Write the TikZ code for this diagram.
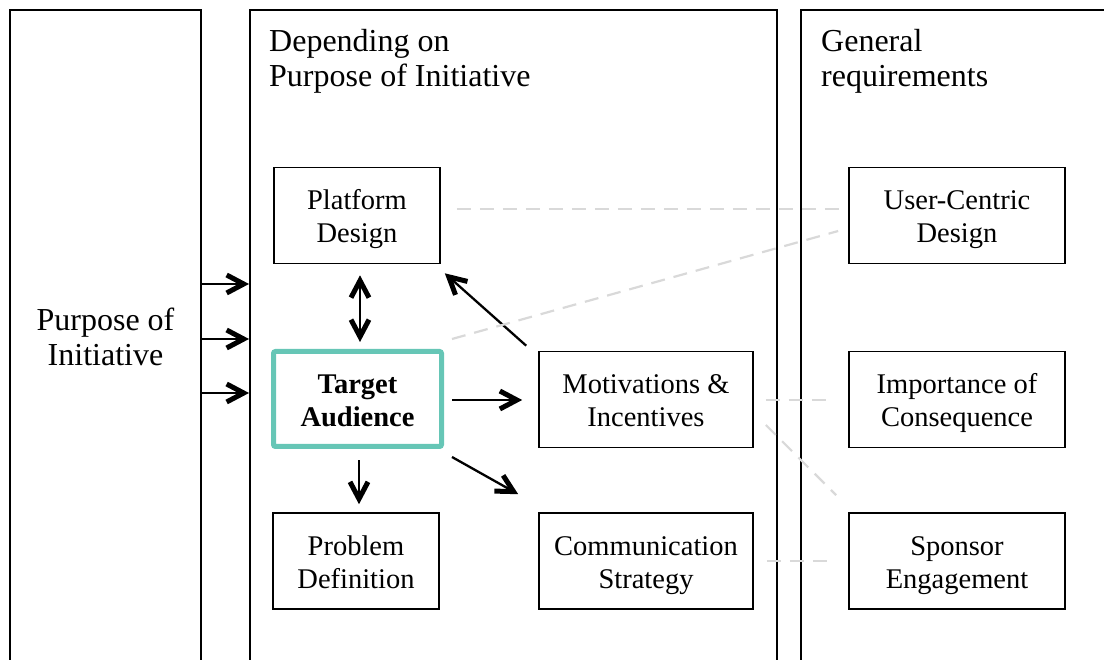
\documentclass[tikz,border=0pt]{standalone}
\usepackage{fontspec}
\setmainfont{Liberation Serif}
\usetikzlibrary{arrows.meta,calc}
\definecolor{teal}{HTML}{66C6B6}
\definecolor{dashgray}{HTML}{D9D9D9}
% two centred lines with fixed top and bottom so every box sets its text alike
\newcommand{\twolines}[2]{\rule{0pt}{29pt}#1\\#2\rule[-7pt]{0pt}{0pt}}
\begin{document}
\begin{tikzpicture}[x=1pt,y=-1pt,
  box/.style={draw=black,line width=1.6pt,minimum width=166pt,minimum height=96pt,
    inner sep=0pt,align=center,font=\fontsize{28.5}{33}\selectfont},
  wide/.style={box,minimum width=214pt},
  focus/.style={box,draw=teal,line width=5pt,rounded corners=2pt,minimum width=168pt,minimum height=95pt,
    font=\fontsize{28.5}{33}\selectfont\bfseries},
  column/.style={line width=1.6pt},
  heading/.style={inner sep=0pt,align=left,anchor=north west,font=\fontsize{32}{35}\selectfont},
  barb/.tip={Straight Barb[length=17pt,width=18pt,line width=5pt]},
  flow/.style={line width=2.3pt,-barb},
  twoway/.style={line width=2.3pt,barb-barb},
  link/.style={draw=dashgray,line width=2.2pt,dash pattern=on 14pt off 9pt}]
\useasboundingbox (0,0) rectangle (1104,660);

% three open-bottomed columns
\draw[column] (10,660) -- (10,10) -- (201,10) -- (201,660);
\draw[column] (250,660) -- (250,10) -- (777,10) -- (777,660);
\draw[column] (801,660) -- (801,10) -- (1104,10);

% column texts
\node[inner sep=0pt,align=center,font=\fontsize{32}{35}\selectfont] (purpose) at (105.5,337) {Purpose of\\Initiative};
\node[heading] (depending) at (269,29) {Depending on\\Purpose of Initiative};
\node[heading] (general) at (821,29) {General\\requirements};

% middle column
\node[box] (platform) at (357,215.5) {\twolines{Platform}{Design}};
\node[focus] (target) at (357.5,399) {\twolines{Target}{Audience}};
\node[box] (problem) at (356,561) {\twolines{Problem}{Definition}};
\node[wide] (motiv) at (646,399.5) {\twolines{Motivations \&}{Incentives}};
\node[wide] (comm) at (646,561) {\twolines{Communication}{Strategy}};

% right column
\node[box,minimum width=216pt] (ucd) at (957,215.5) {\twolines{User-Centric}{Design}};
\node[box,minimum width=216pt] (conseq) at (957,399.5) {\twolines{Importance of}{Consequence}};
\node[box,minimum width=216pt] (sponsor) at (957,561) {\twolines{Sponsor}{Engagement}};

% inputs from the purpose column
\foreach \y [count=\i] in {284,339,393} {
  \coordinate (src\i) at (202,\y);
  \coordinate (dst\i) at (249,\y);
  \draw[flow] (src\i) -- (dst\i);
}

% arrows between the middle boxes
\draw[twoway] ($(platform.south)+(3,11)$) -- ($(target.north)+(2.5,-7)$);
\draw[flow] ($(target.south)+(1.5,11)$) -- ($(problem.north)+(3,-8)$);
\draw[flow] ($(target.east)+(8,1)$) -- ($(motiv.west)+(-16,0.5)$);
\draw[flow] ($(target.south east)+(8,8)$) -- ($(comm.north west)+(-20,-18)$);
\draw[flow] ($(motiv.north west)+(-12,-5)$) -- ($(platform.south east)+(4,9)$);

% links to the general requirements
\draw[link] ($(platform.east)+(16,-6.5)$) -- ($(ucd.west)+(-6,-6.5)$);
\draw[link] ($(target.east)+(8,-60)$) -- ($(ucd.west)+(-10,15.5)$);
\draw[link] ($(motiv.east)+(12,0.5)$) -- ($(conseq.west)+(-16,0.5)$);
\draw[link] ($(motiv.east)+(12,25.5)$) -- ($(sponsor.north west)+(-12,-17)$);
\draw[link] ($(comm.east)+(13,0)$) -- ($(sponsor.west)+(-16,0)$);
\end{tikzpicture}
\end{document}
